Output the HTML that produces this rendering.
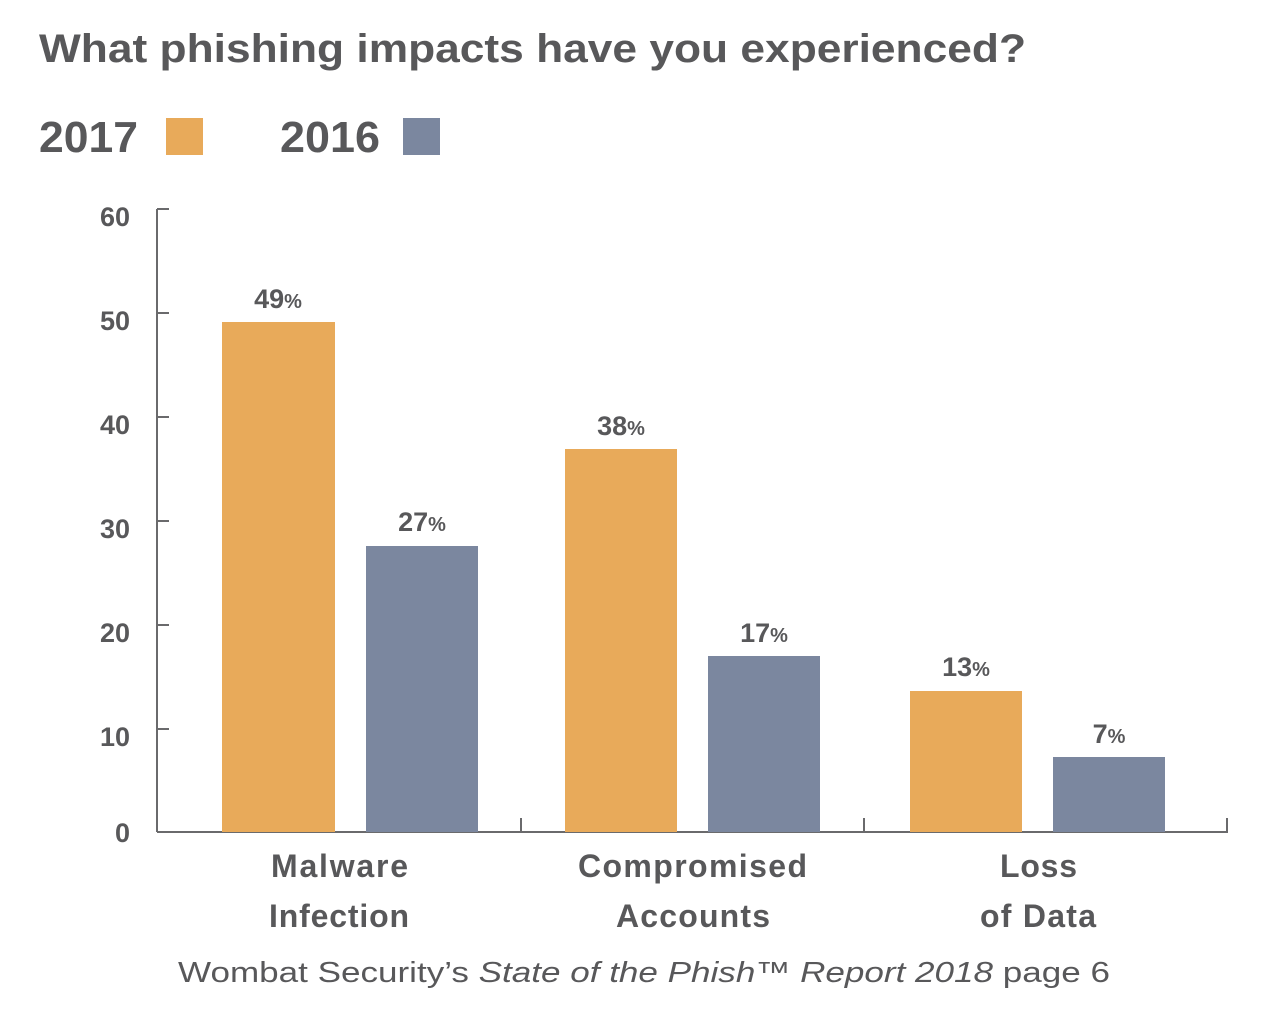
<!DOCTYPE html>
<html><head><meta charset="utf-8"><style>
html,body{margin:0;padding:0;background:#fff;}
svg{display:block;}
text{font-family:"Liberation Sans",Arial,sans-serif;fill:#58585a;}
</style></head><body>
<svg width="1280" height="1015" viewBox="0 0 1280 1015" xmlns="http://www.w3.org/2000/svg">
<text x="39" y="62" font-size="40" font-weight="bold" textLength="987" lengthAdjust="spacingAndGlyphs">What phishing impacts have you experienced?</text>
<text x="39" y="152" font-size="44" font-weight="bold" textLength="99" lengthAdjust="spacingAndGlyphs">2017</text>
<rect x="166" y="118" width="37" height="37" fill="#e8aa5a"/>
<text x="280" y="152" font-size="44" font-weight="bold" textLength="100" lengthAdjust="spacingAndGlyphs">2016</text>
<rect x="403" y="118" width="37" height="37" fill="#7b879f"/>
<g stroke="#6a6a6c" stroke-width="2" fill="none">
<line x1="157" y1="209" x2="157" y2="832"/>
<line x1="157" y1="832" x2="1228" y2="832"/>
<line x1="157" y1="209" x2="169" y2="209"/>
<line x1="157" y1="313" x2="169" y2="313"/>
<line x1="157" y1="417" x2="169" y2="417"/>
<line x1="157" y1="521" x2="169" y2="521"/>
<line x1="157" y1="625" x2="169" y2="625"/>
<line x1="157" y1="729" x2="169" y2="729"/>
<line x1="521" y1="832" x2="521" y2="818"/>
<line x1="864" y1="832" x2="864" y2="818"/>
<line x1="1227" y1="832" x2="1227" y2="818"/>
</g>
<g font-size="27" font-weight="bold" text-anchor="end">
<text x="130" y="226">60</text>
<text x="130" y="330">50</text>
<text x="130" y="434">40</text>
<text x="130" y="538">30</text>
<text x="130" y="642">20</text>
<text x="130" y="746">10</text>
<text x="130" y="842">0</text>
</g>
<rect x="222" y="322" width="113" height="510" fill="#e8aa5a"/>
<rect x="366" y="546" width="112" height="286" fill="#7b879f"/>
<rect x="565" y="449" width="112" height="383" fill="#e8aa5a"/>
<rect x="708" y="656" width="112" height="176" fill="#7b879f"/>
<rect x="910" y="691" width="112" height="141" fill="#e8aa5a"/>
<rect x="1053" y="757" width="112" height="75" fill="#7b879f"/>
<g font-size="27" font-weight="bold" text-anchor="middle">
<text x="278" y="308">49<tspan font-size="20">%</tspan></text>
<text x="422" y="531">27<tspan font-size="20">%</tspan></text>
<text x="621" y="435">38<tspan font-size="20">%</tspan></text>
<text x="764" y="642">17<tspan font-size="20">%</tspan></text>
<text x="966" y="676">13<tspan font-size="20">%</tspan></text>
<text x="1109" y="743">7<tspan font-size="20">%</tspan></text>
</g>
<g font-size="32" font-weight="bold" lengthAdjust="spacingAndGlyphs">
<text x="271" y="877" textLength="137">Malware</text>
<text x="269" y="927" textLength="140">Infection</text>
<text x="578" y="877" textLength="229">Compromised</text>
<text x="616" y="927" textLength="154">Accounts</text>
<text x="1000" y="877" textLength="77">Loss</text>
<text x="980" y="927" textLength="116">of Data</text>
</g>
<text x="178" y="982" font-size="29" textLength="932" lengthAdjust="spacingAndGlyphs">Wombat Security’s <tspan font-style="italic">State of the Phish™ Report 2018</tspan> page 6</text>
</svg>
</body></html>
